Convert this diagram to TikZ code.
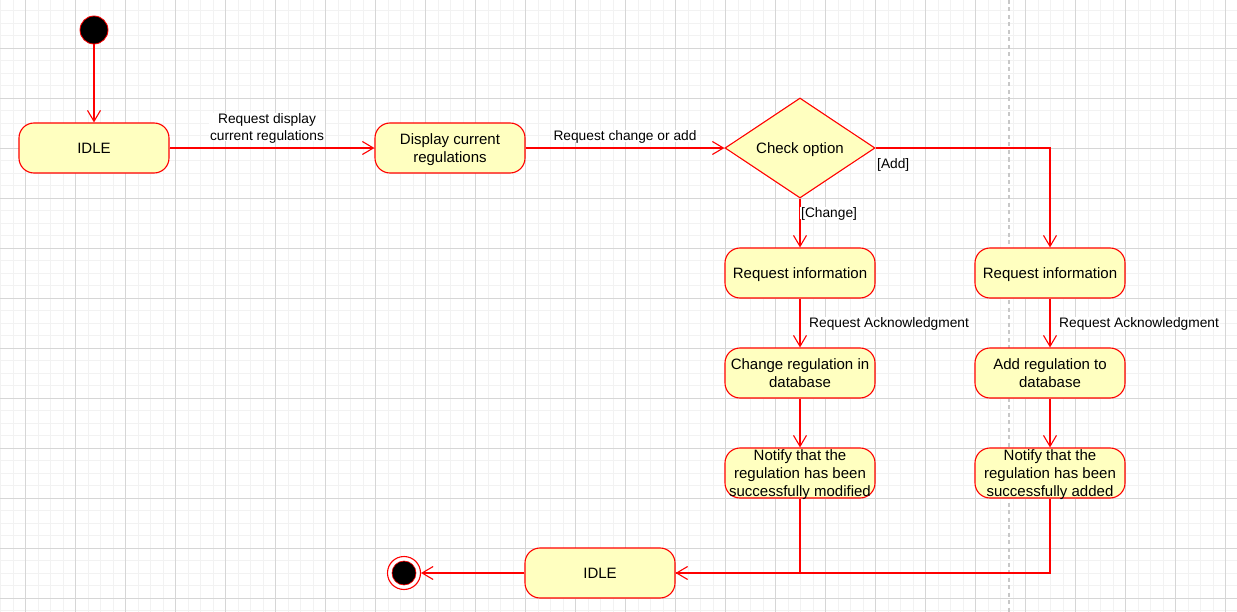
\documentclass[tikz,border=0pt]{standalone}
\usepackage{fontspec}
\setmainfont{Liberation Sans}
\usetikzlibrary{arrows.meta,shapes.geometric,calc}
\definecolor{statefill}{HTML}{FFFFC0}
\definecolor{edgered}{HTML}{FF0000}
\definecolor{gridminor}{HTML}{F2F2F2}
\definecolor{gridmajor}{HTML}{D6D6D6}
\definecolor{sepgray}{HTML}{C8C8C8}
\tikzset{
  statebox/.style={draw=edgered, fill=statefill, rounded corners=15bp, line width=1.1bp,
    minimum width=150bp, minimum height=50bp, inner sep=1bp, align=center,
    font=\fontsize{15bp}{18bp}\selectfont, text=black, text depth=0pt},
  choice/.style={draw=edgered, fill=statefill, diamond, aspect=1.5, line width=1.1bp,
    minimum width=150bp, minimum height=100bp, inner sep=0pt,
    font=\fontsize{15bp}{18bp}\selectfont, text=black, text depth=0pt},
  lbl/.style={fill=white, inner sep=1bp, align=center,
    font=\fontsize{13.75bp}{16.5bp}\selectfont, text=black, text depth=0pt},
  flow/.style={draw=edgered, line width=1.1bp, -{Straight Barb[length=11bp,width=13bp]}},
  plainflow/.style={draw=edgered, line width=1.1bp},
  startdot/.style={circle, fill=black, draw=edgered, line width=0.8bp, minimum size=28bp, inner sep=0pt},
  endring/.style={circle, draw=edgered, fill=white, line width=1.1bp, minimum size=33bp, inner sep=0pt},
  enddot/.style={circle, fill=black, draw=edgered, line width=0.6bp, minimum size=24bp, inner sep=0pt}
}
\begin{document}
\begin{tikzpicture}[x=1bp,y=-1bp]
\useasboundingbox (0,0) rectangle (1237,612);
\fill[white] (0,0) rectangle (1237,612);
% grid
\foreach \i in {0,...,99} {
  \pgfmathsetmacro{\gx}{0.5+12.5*\i}
  \ifdim \gx pt<1237pt \draw[gridminor, line width=0.8bp] (\gx,0) -- (\gx,612); \fi
}
\foreach \i in {0,...,49} {
  \pgfmathsetmacro{\gy}{-2+12.5*\i}
  \ifdim \gy pt<612pt \ifdim \gy pt>0pt \draw[gridminor, line width=0.8bp] (0,\gy) -- (1237,\gy); \fi\fi
}
\foreach \i in {0,...,24} {
  \pgfmathsetmacro{\gx}{25.5+50*\i}
  \draw[gridmajor, line width=0.8bp] (\gx,0) -- (\gx,612);
}
\foreach \i in {1,...,12} {
  \pgfmathsetmacro{\gy}{-2+50*\i}
  \draw[gridmajor, line width=0.8bp] (0,\gy) -- (1237,\gy);
}
% separator
\draw[sepgray, line width=1.5bp, dash pattern=on 4bp off 3.5bp] (1009,0) -- (1009,612);

% nodes
\node[startdot] (start) at (94,30) {};
\node[statebox] (idle1) at (94,148) {IDLE};
\node[statebox] (disp) at (450,148) {Display current\\regulations};
\node[choice] (chk) at (800,148) {Check option};
\node[statebox] (ri1) at (800,273) {Request information};
\node[statebox] (ri2) at (1050,273) {Request information};
\node[statebox] (chg) at (800,373) {Change regulation in\\database};
\node[statebox] (add) at (1050,373) {Add regulation to\\database};
\node[statebox] (n1) at (800,473) {Notify that the\\regulation has been\\successfully modified};
\node[statebox] (n2) at (1050,473) {Notify that the\\regulation has been\\successfully added};
\node[statebox] (idle2) at (600,573) {IDLE};
\node[endring] (endo) at (404,573) {};
\node[enddot] (endi) at (404,573) {};

% connectors
\draw[flow] (start) -- (idle1);
\draw[flow] (idle1) -- (disp);
\draw[flow] (disp) -- (chk);
\draw[flow] (chk.south) -- (ri1);
\draw[flow] (chk.east) -| (ri2.north);
\draw[flow] (ri1) -- (chg);
\draw[flow] (ri2) -- (add);
\draw[flow] (chg) -- (n1);
\draw[flow] (add) -- (n2);
\draw[plainflow] (n1.south) |- (idle2.east);
\draw[flow] (n2.south) |- (idle2.east);
\draw[flow] (idle2) -- (endo);

% labels
\node[lbl] (l1) at (267,127) {Request display\\current regulations};
\node[lbl] (l2) at (625,136) {Request change or add};
\node[lbl, anchor=west] (l3) at (800,213) {[Change]};
\node[lbl, anchor=west] (l4) at (876,164) {[Add]};
\node[lbl, anchor=west] (l5) at (808,323) {Request Acknowledgment};
\node[lbl, anchor=west] (l6) at (1058,323) {Request Acknowledgment};
\end{tikzpicture}
\end{document}
